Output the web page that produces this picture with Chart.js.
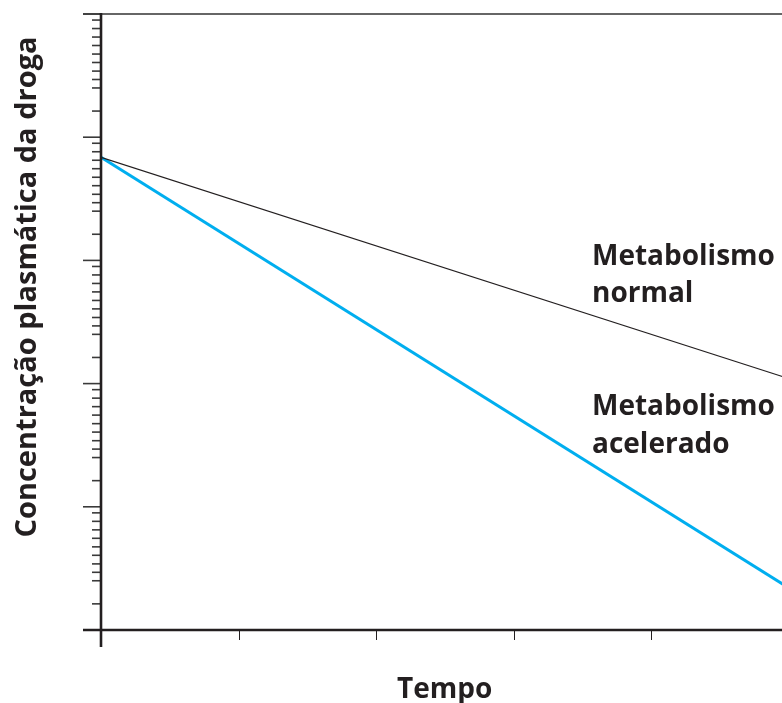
<!DOCTYPE html>
<html>
<head>
<meta charset="utf-8">
<script src="https://cdn.jsdelivr.net/npm/chart.js@4.4.0/dist/chart.umd.min.js"></script>
<style>
html, body { margin:0; padding:0; background:#fff; overflow:hidden; }
#wrap { width:790px; height:703px; }
</style>
</head>
<body>
<div id="wrap"><canvas id="chart" width="790" height="703"></canvas></div>
<script>
// dados (escala log, unidades arbitrárias)
const tempo = [0, 5];
const concNormal = [68.7, 1.10];
const concAcelerado = [68.7, 0.022];

// marcas do eixo y (décadas) e fatores das marcas menores dentro de cada década
const yMajorTicks = [1000, 100, 10, 1, 0.1, 0.01];
const yMinorFactors = [0.893, 0.762, 0.650, 0.555, 0.473, 0.404, 0.344, 0.294, 0.251, 0.163];
const xTicks = [0, 1, 2, 3, 4, 5];

const yTitle = 'Concentração plasmática da droga';
const xTitle = 'Tempo';
const labelNormal = ['Metabolismo', 'normal'];
const labelAcelerado = ['Metabolismo', 'acelerado'];

const TXT = '#231f20';
const FONT = 'bold 28px "Open Sans", sans-serif';

const axesPlugin = {
  id: 'eixos',
  afterDraw(chart){
    const ctx = chart.ctx;
    const xs = chart.scales.x, ys = chart.scales.y;
    const left = xs.getPixelForValue(0);
    const bottom = ys.getPixelForValue(0.01);
    const top = ys.getPixelForValue(1000);
    ctx.save();
    // borda superior
    ctx.strokeStyle = '#666'; ctx.lineWidth = 2;
    ctx.beginPath(); ctx.moveTo(left - 18, top); ctx.lineTo(chart.width, top); ctx.stroke();
    // marcas y
    ctx.strokeStyle = '#3a3a3a'; ctx.lineWidth = 1.6;
    yMajorTicks.forEach(v=>{
      const y = ys.getPixelForValue(v);
      ctx.beginPath(); ctx.moveTo(left - 18, y); ctx.lineTo(left, y); ctx.stroke();
      if(v > 0.01){
        yMinorFactors.forEach(f=>{
          const ym = ys.getPixelForValue(v * f);
          ctx.beginPath(); ctx.moveTo(left - 9, ym); ctx.lineTo(left, ym); ctx.stroke();
        });
      }
    });
    // marcas x
    ctx.strokeStyle = TXT; ctx.lineWidth = 1;
    xTicks.slice(1).forEach(v=>{
      const x = Math.round(xs.getPixelForValue(v)) + 0.5;
      ctx.beginPath(); ctx.moveTo(x, bottom); ctx.lineTo(x, bottom + 10); ctx.stroke();
    });
    // eixos
    ctx.strokeStyle = TXT; ctx.lineWidth = 2.6;
    ctx.beginPath(); ctx.moveTo(left - 18, bottom); ctx.lineTo(chart.width, bottom); ctx.stroke();
    ctx.beginPath(); ctx.moveTo(left, top - 1); ctx.lineTo(left, bottom + 17); ctx.stroke();

    // textos
    ctx.fillStyle = TXT; ctx.font = FONT; ctx.textBaseline = 'alphabetic';
    ctx.textAlign = 'center';
    ctx.fillText(xTitle, (xs.left + xs.right) / 2, 698);
    ctx.save();
    ctx.font = 'bold 29px "Open Sans", sans-serif';
    ctx.translate(36, 287); ctx.rotate(-Math.PI / 2);
    ctx.fillText(yTitle, 0, 0);
    ctx.restore();
    ctx.textAlign = 'left';
    ctx.fillText(labelNormal[0], 592, 265);
    ctx.fillText(labelNormal[1], 592, 302);
    ctx.fillText(labelAcelerado[0], 592, 415);
    ctx.fillText(labelAcelerado[1], 592, 453);
    ctx.restore();
  }
};

new Chart(document.getElementById('chart'), {
  type: 'line',
  data: {
    datasets: [
      { label: 'Metabolismo normal', data: tempo.map((t,i)=>({x:t, y:concNormal[i]})),
        borderColor: TXT, borderWidth: 1.2, pointRadius: 0, fill: false },
      { label: 'Metabolismo acelerado', data: tempo.map((t,i)=>({x:t, y:concAcelerado[i]})),
        borderColor: '#00aeef', borderWidth: 3, pointRadius: 0, fill: false }
    ]
  },
  options: {
    responsive: false,
    animation: false,
    layout: { padding: { left: 101, top: 14, right: 1.5, bottom: 73 } },
    plugins: { legend: { display: false }, tooltip: { enabled: false } },
    scales: {
      x: { type: 'linear', min: 0, max: 5, display: false },
      y: { type: 'logarithmic', min: 0.01, max: 1000, display: false }
    }
  },
  plugins: [axesPlugin]
});
</script>
</body>
</html>
